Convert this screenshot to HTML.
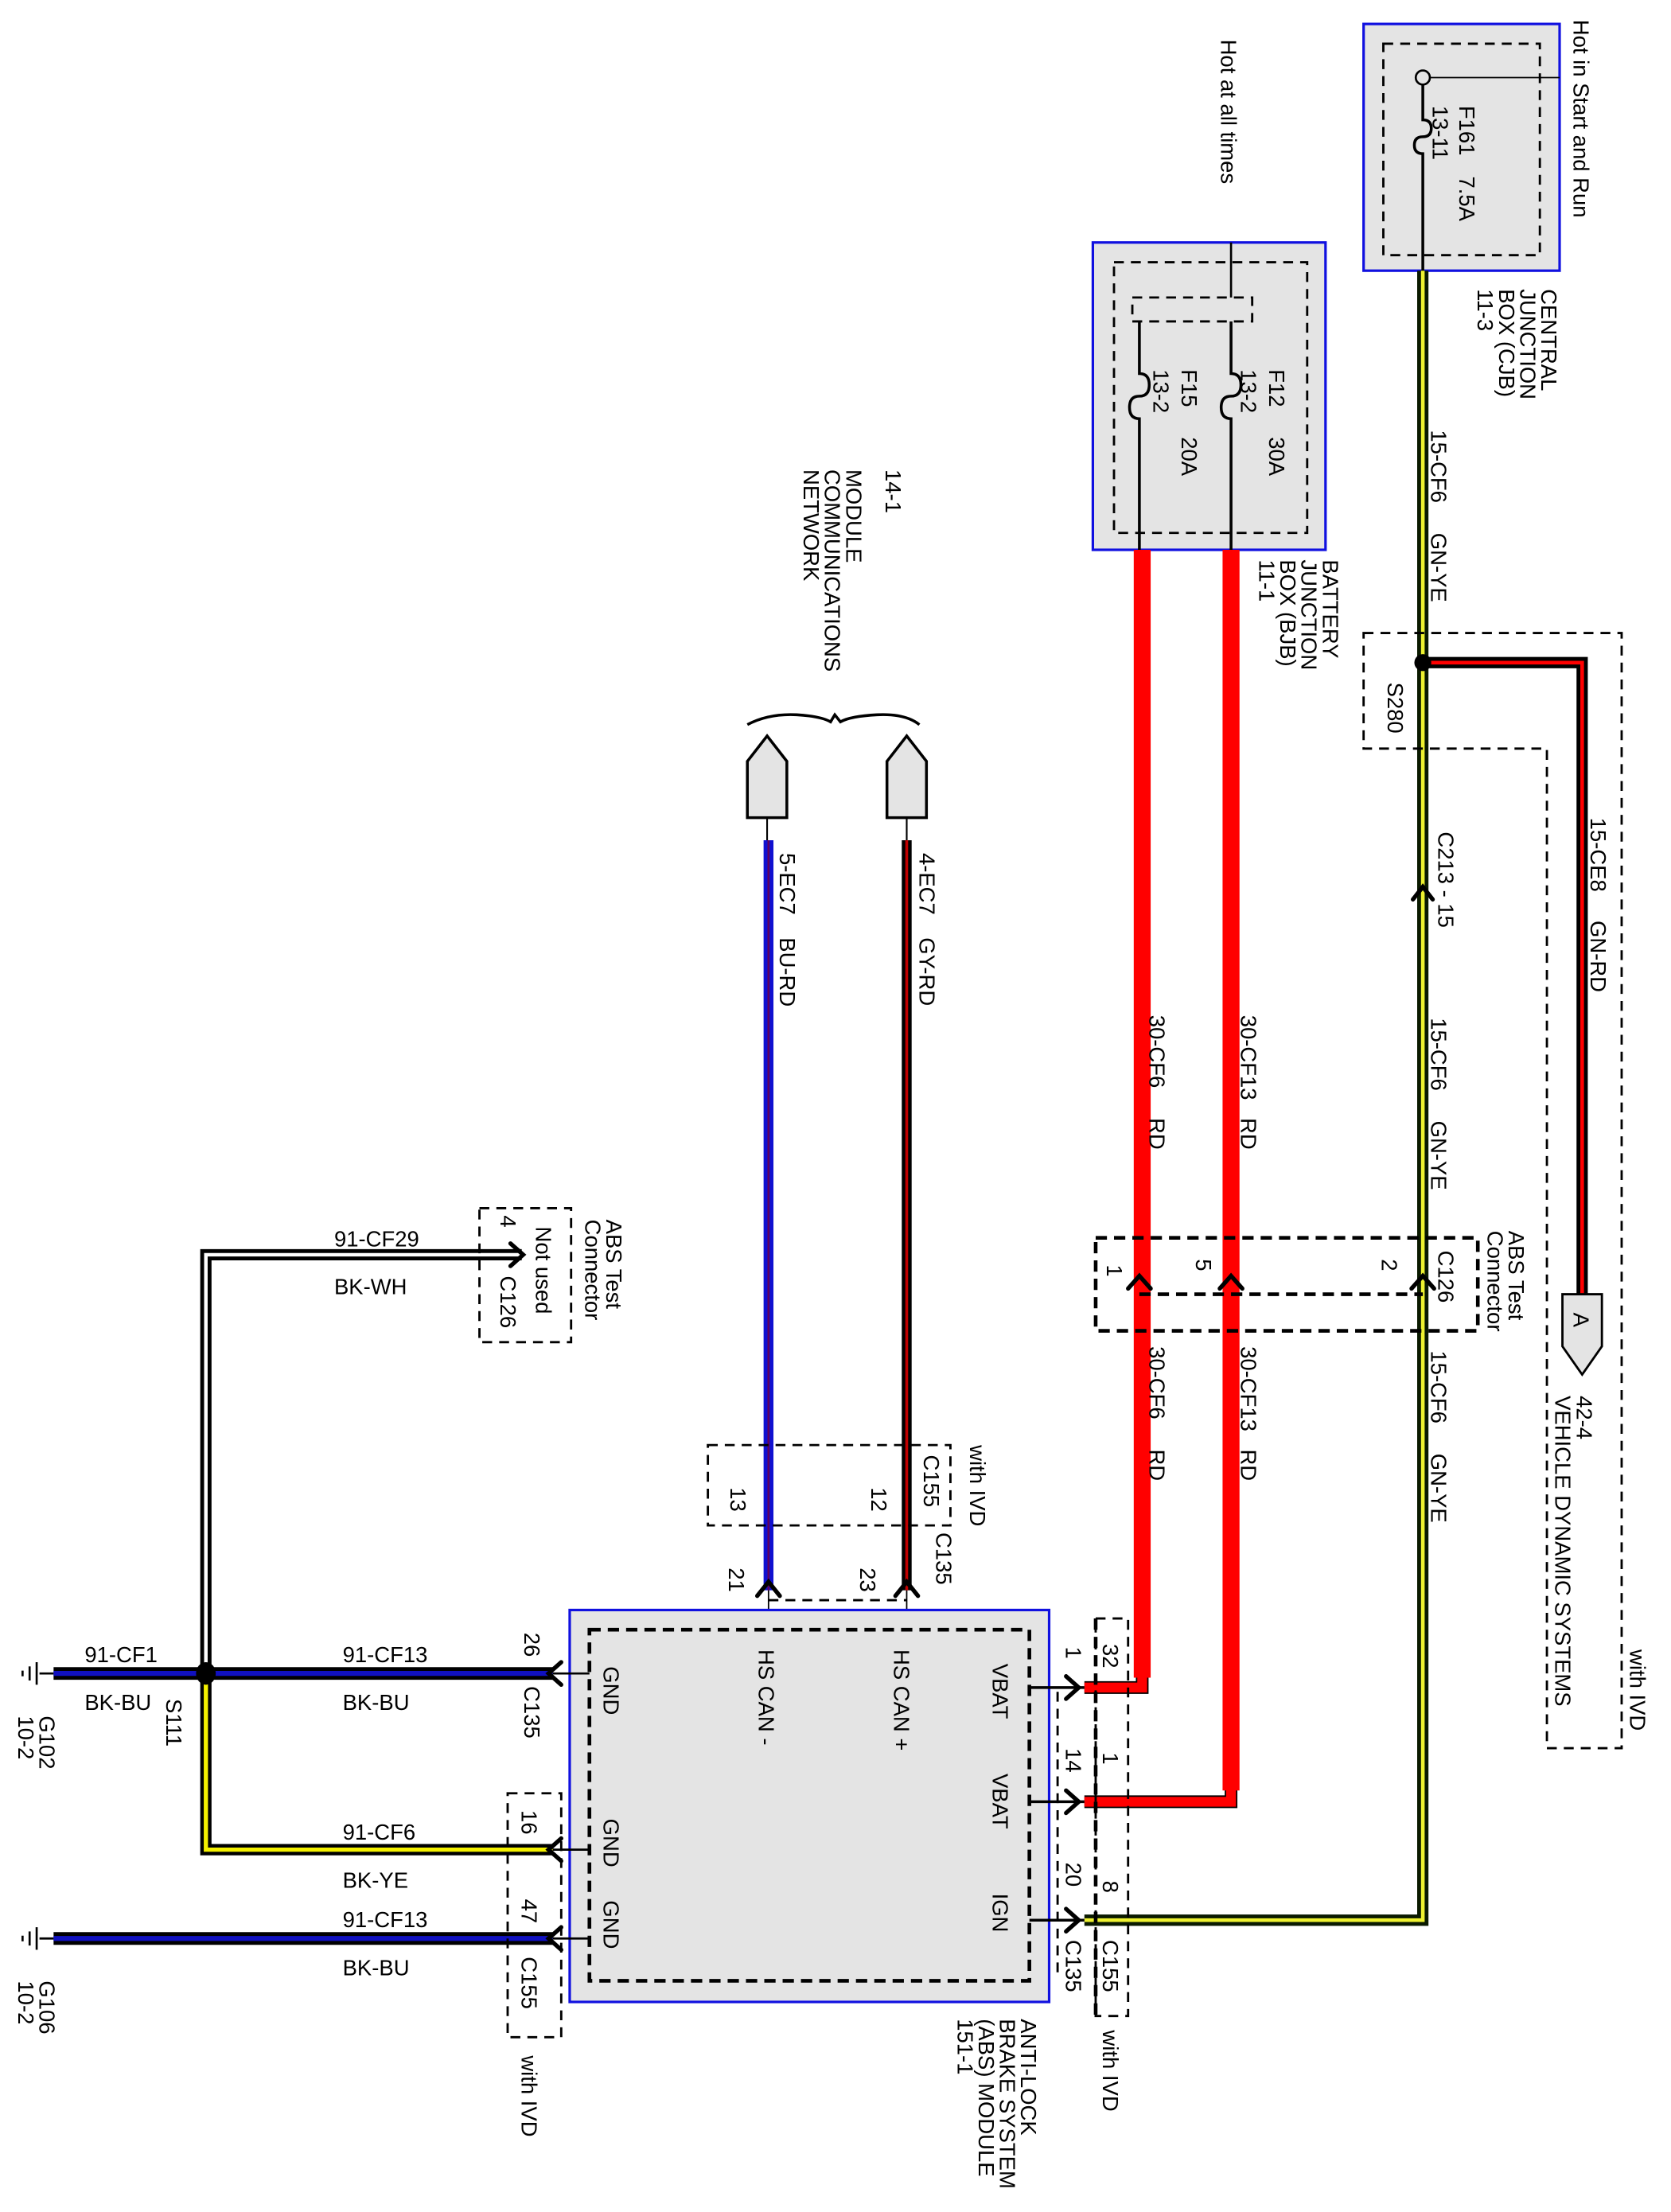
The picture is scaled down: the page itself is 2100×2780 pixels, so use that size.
<!DOCTYPE html>
<html><head><meta charset="utf-8"><style>
html,body{margin:0;padding:0;background:#fff;}
svg{display:block;}
text{font-family:"Liberation Sans",Arial,sans-serif;font-size:15.5px;fill:#000;}
</style></head><body>
<svg width="2100" height="2780" viewBox="0 0 1185 1569" preserveAspectRatio="none" xmlns="http://www.w3.org/2000/svg">
<defs>
<style>.d{fill:none;stroke:#000;stroke-width:1.6;stroke-dasharray:7 5}.d2{fill:none;stroke:#000;stroke-width:2.6;stroke-dasharray:8 5}.ch{fill:none;stroke:#000;stroke-width:3;stroke-linecap:round}</style>
</defs>
<rect width="1185" height="1569" fill="#fff"/>

<!-- CJB -->
<rect x="967" y="17" width="139" height="175" fill="#e4e4e4" stroke="#1010e0" stroke-width="1.8"/>
<rect x="981" y="31" width="111" height="150" class="d"/>
<line x1="1014" y1="55" x2="1106" y2="55" stroke="#000" stroke-width="1"/>
<circle cx="1009" cy="55" r="5" fill="none" stroke="#000" stroke-width="1.5"/>
<path d="M1009 60 V85 q6 0 6 6 q0 6 -6 6 q-6 0 -6 6 q0 6 6 6 V192" fill="none" stroke="#000" stroke-width="2"/>
<text transform="translate(1035,75) rotate(90)">F161</text>
<text transform="translate(1035,125) rotate(90)">7.5A</text>
<text transform="translate(1016,75) rotate(90)">13-11</text>
<text transform="translate(1116,14) rotate(90)">Hot in Start and Run</text>
<text transform="translate(1093,205) rotate(90)">CENTRAL</text>
<text transform="translate(1078,205) rotate(90)">JUNCTION</text>
<text transform="translate(1063,205) rotate(90)">BOX (CJB)</text>
<text transform="translate(1048,205) rotate(90)">11-3</text>

<!-- GN-YE wire -->
<path d="M1009 192 V1362 H769" fill="none" stroke="#0a1a00" stroke-width="8"/>
<path d="M1009 192 V1362 H769" fill="none" stroke="#eef230" stroke-width="2.6"/>
<text transform="translate(1015,305) rotate(90)">15-CF6</text>
<text transform="translate(1015,378) rotate(90)">GN-YE</text>
<text transform="translate(1020,590) rotate(90)">C213 - 15</text>
<text transform="translate(1015,722) rotate(90)">15-CF6</text>
<text transform="translate(1015,795) rotate(90)">GN-YE</text>
<text transform="translate(1015,958) rotate(90)">15-CF6</text>
<text transform="translate(1015,1031) rotate(90)">GN-YE</text>
<path d="M1002 638 L1009 629 L1016 638" class="ch"/>

<!-- S280 / IVD -->
<path d="M967 449 H1150 V1240 H1097 V531 H967 Z" class="d"/>
<path d="M1009 470 H1122 V918" fill="none" stroke="#000" stroke-width="8"/>
<path d="M1009 470 H1122 V918" fill="none" stroke="#f00" stroke-width="2.6"/>
<circle cx="1009" cy="470" r="6" fill="#000"/>
<text transform="translate(984,484) rotate(90)">S280</text>
<text transform="translate(1128,580) rotate(90)">15-CE8</text>
<text transform="translate(1128,653) rotate(90)">GN-RD</text>
<path d="M1108 918 H1136 V955 L1122 975 L1108 955 Z" fill="#e4e4e4" stroke="#000" stroke-width="1.6"/>
<text transform="translate(1116,931) rotate(90)">A</text>
<text transform="translate(1118,990) rotate(90)">42-4</text>
<text transform="translate(1103,990) rotate(90)">VEHICLE DYNAMIC SYSTEMS</text>
<text transform="translate(1156,1170) rotate(90)">with IVD</text>

<!-- BJB -->
<rect x="775" y="172" width="165" height="218" fill="#e4e4e4" stroke="#1010e0" stroke-width="1.8"/>
<rect x="790" y="186" width="137" height="192" class="d"/>
<rect x="803" y="211" width="85" height="17" class="d"/>
<line x1="873" y1="172" x2="873" y2="211" stroke="#000" stroke-width="1.5"/>
<path d="M873 228 V265 q7 0 7 8 q0 8 -7 8 q-7 0 -7 8 q0 8 7 8 V390" fill="none" stroke="#000" stroke-width="2"/>
<path d="M808 228 V265 q7 0 7 8 q0 8 -7 8 q-7 0 -7 8 q0 8 7 8 V390" fill="none" stroke="#000" stroke-width="2"/>
<text transform="translate(900,262) rotate(90)">F12</text>
<text transform="translate(900,310) rotate(90)">30A</text>
<text transform="translate(880,262) rotate(90)">13-2</text>
<text transform="translate(838,262) rotate(90)">F15</text>
<text transform="translate(838,310) rotate(90)">20A</text>
<text transform="translate(818,262) rotate(90)">13-2</text>
<text transform="translate(866,28) rotate(90)">Hot at all times</text>
<text transform="translate(938,397) rotate(90)">BATTERY</text>
<text transform="translate(923,397) rotate(90)">JUNCTION</text>
<text transform="translate(908,397) rotate(90)">BOX (BJB)</text>
<text transform="translate(893,397) rotate(90)">11-1</text>

<!-- red wires -->
<path d="M873 390 V1278 H769" fill="none" stroke="#000" stroke-width="9"/>
<path d="M873 390 V1278 H769" fill="none" stroke="#f00" stroke-width="7"/>
<path d="M810 390 V1197 H769" fill="none" stroke="#000" stroke-width="9"/>
<path d="M810 390 V1197 H769" fill="none" stroke="#f00" stroke-width="7"/>
<rect x="804" y="390" width="12" height="800" fill="#f00"/>
<rect x="867" y="390" width="12" height="880" fill="#f00"/>
<text transform="translate(880,720) rotate(90)">30-CF13</text>
<text transform="translate(880,793) rotate(90)">RD</text>
<text transform="translate(815,720) rotate(90)">30-CF6</text>
<text transform="translate(815,793) rotate(90)">RD</text>
<text transform="translate(880,955) rotate(90)">30-CF13</text>
<text transform="translate(880,1028) rotate(90)">RD</text>
<text transform="translate(815,955) rotate(90)">30-CF6</text>
<text transform="translate(815,1028) rotate(90)">RD</text>

<!-- C126 -->
<path d="M777 878 H1048 V944 H777 Z" class="d2"/>
<line x1="808" y1="918" x2="1009" y2="918" class="d2"/>
<path d="M800 914 L808 905 L816 914" class="ch"/>
<path d="M865 914 L873 905 L881 914" class="ch"/>
<path d="M1001 914 L1009 905 L1017 914" class="ch"/>
<text transform="translate(785,897) rotate(90)">1</text>
<text transform="translate(848,893) rotate(90)">5</text>
<text transform="translate(980,893) rotate(90)">2</text>
<text transform="translate(1020,887) rotate(90)">C126</text>
<text transform="translate(1070,873) rotate(90)">ABS Test</text>
<text transform="translate(1055,873) rotate(90)">Connector</text>

<!-- CAN -->
<path d="M530 540 L544 522 L558 540 V580 H530 Z" fill="#e4e4e4" stroke="#000" stroke-width="2"/>
<path d="M629 540 L643 522 L657 540 V580 H629 Z" fill="#e4e4e4" stroke="#000" stroke-width="2"/>
<path d="M530 514 Q545 506 565 507 Q582 508 589 512 L592 507 L596 512 Q603 508 622 507 Q642 506 652 514" fill="none" stroke="#000" stroke-width="2"/>
<line x1="544" y1="580" x2="544" y2="596" stroke="#000" stroke-width="1.2"/>
<line x1="643" y1="580" x2="643" y2="596" stroke="#000" stroke-width="1.2"/>
<line x1="545" y1="596" x2="545" y2="1128" stroke="#1010d0" stroke-width="7"/>
<line x1="545" y1="596" x2="545" y2="1128" stroke="#600060" stroke-width="1.5"/>
<line x1="643" y1="596" x2="643" y2="1128" stroke="#000" stroke-width="7"/>
<line x1="643" y1="596" x2="643" y2="1128" stroke="#c00000" stroke-width="2"/>
<text transform="translate(553,605) rotate(90)">5-EC7</text>
<text transform="translate(553,665) rotate(90)">BU-RD</text>
<text transform="translate(652,605) rotate(90)">4-EC7</text>
<text transform="translate(652,665) rotate(90)">GY-RD</text>
<text transform="translate(628,333) rotate(90)">14-1</text>
<text transform="translate(600,333) rotate(90)">MODULE</text>
<text transform="translate(585,333) rotate(90)">COMMUNICATIONS</text>
<text transform="translate(570,333) rotate(90)">NETWORK</text>
<rect x="502" y="1025" width="172" height="57" class="d"/>
<text transform="translate(518,1055) rotate(90)">13</text>
<text transform="translate(618,1055) rotate(90)">12</text>
<text transform="translate(655,1032) rotate(90)">C155</text>
<text transform="translate(688,1025) rotate(90)">with IVD</text>
<text transform="translate(664,1087) rotate(90)">C135</text>
<text transform="translate(517,1112) rotate(90)">21</text>
<text transform="translate(610,1112) rotate(90)">23</text>
<path d="M537 1132 L545 1122 L553 1132" class="ch"/>
<path d="M635 1132 L643 1122 L651 1132" class="ch"/>
<line x1="545" y1="1128" x2="545" y2="1172" stroke="#000" stroke-width="1"/>
<line x1="643" y1="1128" x2="643" y2="1172" stroke="#000" stroke-width="1"/>
<line x1="545" y1="1135" x2="643" y2="1135" class="d"/>

<!-- ABS module -->
<rect x="404" y="1142" width="340" height="278" fill="#e4e4e4" stroke="#1010e0" stroke-width="1.8"/>
<rect x="418" y="1156" width="312" height="249" class="d2"/>
<text transform="translate(428,1182) rotate(90)">GND</text>
<text transform="translate(428,1290) rotate(90)">GND</text>
<text transform="translate(428,1348) rotate(90)">GND</text>
<text transform="translate(538,1170) rotate(90)">HS CAN -</text>
<text transform="translate(634,1170) rotate(90)">HS CAN +</text>
<text transform="translate(704,1180) rotate(90)">VBAT</text>
<text transform="translate(704,1258) rotate(90)">VBAT</text>
<text transform="translate(704,1343) rotate(90)">IGN</text>
<text transform="translate(724,1432) rotate(90)">ANTI-LOCK</text>
<text transform="translate(709,1432) rotate(90)">BRAKE SYSTEM</text>
<text transform="translate(694,1432) rotate(90)">(ABS) MODULE</text>
<text transform="translate(679,1432) rotate(90)">151-1</text>

<!-- right pins -->
<g stroke="#000" stroke-width="2">
<line x1="730" y1="1197" x2="769" y2="1197"/>
<line x1="730" y1="1278" x2="769" y2="1278"/>
<line x1="730" y1="1362" x2="769" y2="1362"/>
</g>
<path d="M756 1189 L765 1197 L756 1205" class="ch"/>
<path d="M756 1270 L765 1278 L756 1286" class="ch"/>
<path d="M756 1354 L765 1362 L756 1370" class="ch"/>
<line x1="750" y1="1200" x2="750" y2="1400" class="d"/>
<path d="M777 1148 H800 V1430 H777 Z" class="d"/>
<line x1="777" y1="1148" x2="777" y2="1430" class="d2"/>
<text transform="translate(756,1168) rotate(90)">1</text>
<text transform="translate(782,1166) rotate(90)">32</text>
<text transform="translate(756,1240) rotate(90)">14</text>
<text transform="translate(782,1243) rotate(90)">1</text>
<text transform="translate(756,1321) rotate(90)">20</text>
<text transform="translate(782,1334) rotate(90)">8</text>
<text transform="translate(756,1376) rotate(90)">C135</text>
<text transform="translate(782,1376) rotate(90)">C155</text>
<text transform="translate(782,1440) rotate(90)">with IVD</text>

<!-- left side -->
<path d="M146 1187 V890 H370" fill="none" stroke="#000" stroke-width="8"/>
<path d="M146 1187 V890 H370" fill="none" stroke="#fff" stroke-width="2.5"/>
<path d="M146 1187 V1312 H392" fill="none" stroke="#000" stroke-width="8"/>
<path d="M146 1187 V1312 H392" fill="none" stroke="#f4f000" stroke-width="3"/>
<line x1="38" y1="1187" x2="392" y2="1187" stroke="#000" stroke-width="9"/>
<line x1="38" y1="1187" x2="392" y2="1187" stroke="#1010c0" stroke-width="3.5"/>
<line x1="38" y1="1375" x2="392" y2="1375" stroke="#000" stroke-width="9"/>
<line x1="38" y1="1375" x2="392" y2="1375" stroke="#1010c0" stroke-width="3.5"/>
<ellipse cx="146" cy="1187" rx="7" ry="8" fill="#000"/>
<path d="M362 882 L371 890 L362 898" class="ch"/>
<g stroke="#000" stroke-width="1.5">
<line x1="392" y1="1187" x2="418" y2="1187"/><line x1="392" y1="1312" x2="418" y2="1312"/><line x1="392" y1="1375" x2="418" y2="1375"/>
<line x1="38" y1="1187" x2="28" y2="1187"/><line x1="38" y1="1375" x2="28" y2="1375"/>
<line x1="26" y1="1179" x2="26" y2="1195"/><line x1="21" y1="1182" x2="21" y2="1192"/><line x1="16" y1="1185" x2="16" y2="1189"/>
<line x1="26" y1="1367" x2="26" y2="1383"/><line x1="21" y1="1370" x2="21" y2="1380"/><line x1="16" y1="1373" x2="16" y2="1377"/>
</g>
<path d="M398 1179 L389 1187 L398 1195" class="ch"/>
<path d="M398 1304 L389 1312 L398 1320" class="ch"/>
<path d="M398 1367 L389 1375 L398 1383" class="ch"/>
<text x="60" y="1179">91-CF1</text>
<text x="60" y="1213">BK-BU</text>
<text x="243" y="1179">91-CF13</text>
<text x="243" y="1213">BK-BU</text>
<text x="237" y="884">91-CF29</text>
<text x="237" y="918">BK-WH</text>
<text x="243" y="1305">91-CF6</text>
<text x="243" y="1339">BK-YE</text>
<text x="243" y="1367">91-CF13</text>
<text x="243" y="1401">BK-BU</text>
<text transform="translate(118,1205) rotate(90)">S111</text>
<text transform="translate(28,1217) rotate(90)">G102</text>
<text transform="translate(13,1217) rotate(90)">10-2</text>
<text transform="translate(28,1405) rotate(90)">G106</text>
<text transform="translate(13,1405) rotate(90)">10-2</text>
<text transform="translate(372,1158) rotate(90)">26</text>
<text transform="translate(372,1196) rotate(90)">C135</text>
<rect x="360" y="1272" width="38" height="173" class="d"/>
<text transform="translate(370,1284) rotate(90)">16</text>
<text transform="translate(370,1347) rotate(90)">47</text>
<text transform="translate(370,1388) rotate(90)">C155</text>
<text transform="translate(370,1458) rotate(90)">with IVD</text>
<rect x="340" y="857" width="65" height="95" class="d"/>
<text transform="translate(355,862) rotate(90)">4</text>
<text transform="translate(380,870) rotate(90)">Not used</text>
<text transform="translate(355,905) rotate(90)">C126</text>
<text transform="translate(430,865) rotate(90)">ABS Test</text>
<text transform="translate(415,865) rotate(90)">Connector</text>
</svg>
</body></html>
